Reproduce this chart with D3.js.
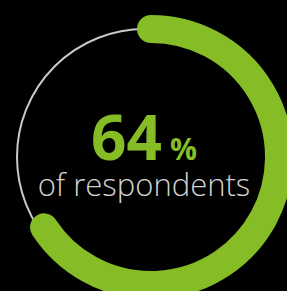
<!DOCTYPE html>
<html>
<head>
<meta charset="utf-8">
<script src="https://cdn.jsdelivr.net/npm/d3@7"></script>
<style>
  html, body { margin: 0; padding: 0; background: #000; }
  svg { display: block; }
</style>
</head>
<body>
<script>
// share of respondents, in percent
var values = [64];
var labels = ["of respondents"];
var units = ["%"];

var width = 287, height = 291;
var r = 128, band = 28;

var svg = d3.select("body").
  append("svg").
  attr("width", width).
  attr("height", height);

// percent -> angle, 0 at twelve o'clock, clockwise
var angle = d3.scaleLinear().domain([0, 100]).range([0, 2 * Math.PI]);
// the round end in the original runs a little past the value
var capPad = band / 2 / r;

// thin track
svg.append("circle")
  .attr("cx", 145)
  .attr("cy", 157)
  .attr("r", r)
  .attr("fill", "none")
  .attr("stroke", "#c9c9c9")
  .attr("stroke-width", 2);

function valueArc(d) {
  var p = d3.path();
  var a0 = -Math.PI / 2, a1 = -Math.PI / 2 + angle(d) + capPad;
  p.moveTo(r * Math.cos(a0), r * Math.sin(a0));
  p.arc(0, 0, r, a0, a1);
  return p.toString();
}

svg.append("g")
  .attr("transform", "translate(151,157)")
  .selectAll("path").data(values).enter().append("path")
  .attr("d", valueArc)
  .attr("fill", "none")
  .attr("stroke", "#86bc25")
  .attr("stroke-width", band)
  .attr("stroke-linecap", "round");

var big = svg.append("text")
  .attr("x", 144)
  .attr("y", 160)
  .attr("text-anchor", "middle")
  .attr("font-family", "'Open Sans', sans-serif")
  .attr("fill", "#86bc25")
  .attr("font-weight", 700);

big.append("tspan").attr("font-size", 62).text(values[0]);
big.append("tspan").attr("font-size", 30).attr("dx", 8).text(units[0]);

svg.append("text")
  .attr("x", 144)
  .attr("y", 196)
  .attr("text-anchor", "middle")
  .attr("font-family", "'Open Sans', sans-serif")
  .attr("font-weight", 300)
  .attr("font-size", 31)
  .attr("fill", "#d2d2d2")
  .text(labels[0]);
</script>
</body>
</html>
